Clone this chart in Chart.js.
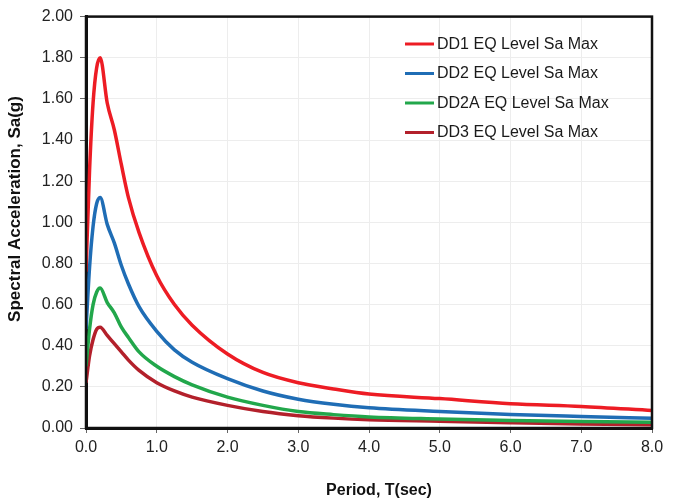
<!DOCTYPE html>
<html>
<head>
<meta charset="utf-8">
<script src="https://cdn.jsdelivr.net/npm/chart.js@4.4.1/dist/chart.umd.min.js"></script>
<style>
	html, body { margin: 0; padding: 0; background: #fff; }
	#wrap { width: 673px; height: 501px; }
</style>
</head>
<body>
<div id="wrap"><canvas id="myChart" width="673" height="501"></canvas></div>
<script>
const periods = [0, 0.05, 0.1, 0.15, 0.2, 0.3, 0.4, 0.5, 0.6, 0.75, 1.0, 1.25, 1.5, 2.0, 2.5, 3.0, 3.5, 4.0, 5.0, 6.0, 7.0, 8.0]
const dd1 = [0.76, 1.25, 1.58, 1.75, 1.80, 1.58, 1.45, 1.28, 1.12, 0.95, 0.74, 0.60, 0.50, 0.36, 0.27, 0.22, 0.19, 0.165, 0.143, 0.118, 0.105, 0.085]
const dd2 = [0.48, 0.78, 0.98, 1.09, 1.12, 0.99, 0.90, 0.79, 0.70, 0.59, 0.47, 0.38, 0.32, 0.24, 0.18, 0.14, 0.115, 0.098, 0.08, 0.066, 0.056, 0.047]
const dd2a = [0.30, 0.48, 0.60, 0.66, 0.68, 0.61, 0.56, 0.49, 0.44, 0.37, 0.30, 0.25, 0.21, 0.15, 0.11, 0.08, 0.065, 0.054, 0.044, 0.036, 0.031, 0.028]
const dd3 = [0.22, 0.35, 0.43, 0.48, 0.49, 0.45, 0.41, 0.37, 0.33, 0.28, 0.22, 0.18, 0.15, 0.11, 0.08, 0.06, 0.048, 0.04, 0.033, 0.026, 0.02, 0.016]
const seriesNames = ['DD1 EQ Level Sa Max', 'DD2 EQ Level Sa Max', 'DD2A EQ Level Sa Max', 'DD3 EQ Level Sa Max']
const seriesColors = ['#ed1c24', '#1f6db5', '#22a74b', '#b3202b']
const xTitle = 'Period, T(sec)'
const yTitle = 'Spectral Acceleration, Sa(g)'

const font = "'Liberation Sans', Arial, sans-serif"

const toPoints = (vals) => periods.map((p, i) => ({ x: p, y: vals[i] }))

// legend sits inside the plot area, top right
const insideLegend = {
	id: 'insideLegend',
	afterDraw(chart) {
		const c = chart.ctx
		c.save()
		c.font = '16px ' + font
		c.textBaseline = 'middle'
		chart.data.datasets.forEach((ds, i) => {
			const y = 44 + i * 29.5
			c.strokeStyle = ds.borderColor
			c.lineWidth = 3
			c.beginPath()
			c.moveTo(405, y)
			c.lineTo(434, y)
			c.stroke()
			c.fillStyle = '#1a1a1a'
			c.fillText(ds.label, 437, y + 0.5)
		})
		c.restore()
	},
}

// axis titles are not centred on the plot in the original, so place them by hand
const axisTitles = {
	id: 'axisTitles',
	afterDraw(chart) {
		const c = chart.ctx
		c.save()
		c.fillStyle = '#111'
		c.textAlign = 'center'
		c.textBaseline = 'middle'
		c.font = 'bold 16px ' + font
		c.fillText(xTitle, 379, 491)
		c.translate(15, 209)
		c.rotate(-Math.PI / 2)
		c.font = 'bold 17px ' + font
		c.fillText(yTitle, 0, 0)
		c.restore()
	},
}

const frame = {
	id: 'frame',
	afterDatasetsDraw(chart) {
		const { left, top, right, bottom } = chart.chartArea
		const c = chart.ctx
		c.save()
		c.strokeStyle = '#111'
		c.lineWidth = 2.5
		c.strokeRect(left, top, right - left, bottom - top)
		c.restore()
	},
}

const ctx = document.getElementById('myChart')

new Chart(ctx, {
	type: 'line',
	data: {
		datasets: [dd1, dd2, dd2a, dd3].map((vals, i) => ({
			label: seriesNames[i],
			data: toPoints(vals),
			borderColor: seriesColors[i],
			backgroundColor: seriesColors[i],
			borderWidth: 3.5,
			pointRadius: 0,
			cubicInterpolationMode: 'monotone',
			fill: false,
		})),
	},
	options: {
		responsive: false,
		animation: false,
		layout: {
			padding: { top: 16, right: 21, left: 0, bottom: 0 },
		},
		plugins: {
			legend: { display: false },
			tooltip: { enabled: false },
		},
		scales: {
			x: {
				type: 'linear',
				min: 0,
				max: 8,
				ticks: {
					stepSize: 1,
					padding: 5,
					color: '#222',
					font: { family: font, size: 16 },
					callback: (v) => v.toFixed(1),
				},
				grid: { color: '#ededed', tickColor: '#666', tickLength: 5 },
				border: { color: '#111', width: 3 },
				afterFit: (scale) => { scale.height = 73 },
			},
			y: {
				min: 0,
				max: 2,
				ticks: {
					stepSize: 0.2,
					padding: 7,
					color: '#222',
					font: { family: font, size: 16 },
					callback: (v) => v.toFixed(2),
				},
				grid: { color: '#ededed', tickColor: '#666', tickLength: 6 },
				border: { color: '#111', width: 3 },
				afterFit: (scale) => { scale.width = 86 },
			},
		},
	},
	plugins: [frame, insideLegend, axisTitles],
})
</script>
</body>
</html>
